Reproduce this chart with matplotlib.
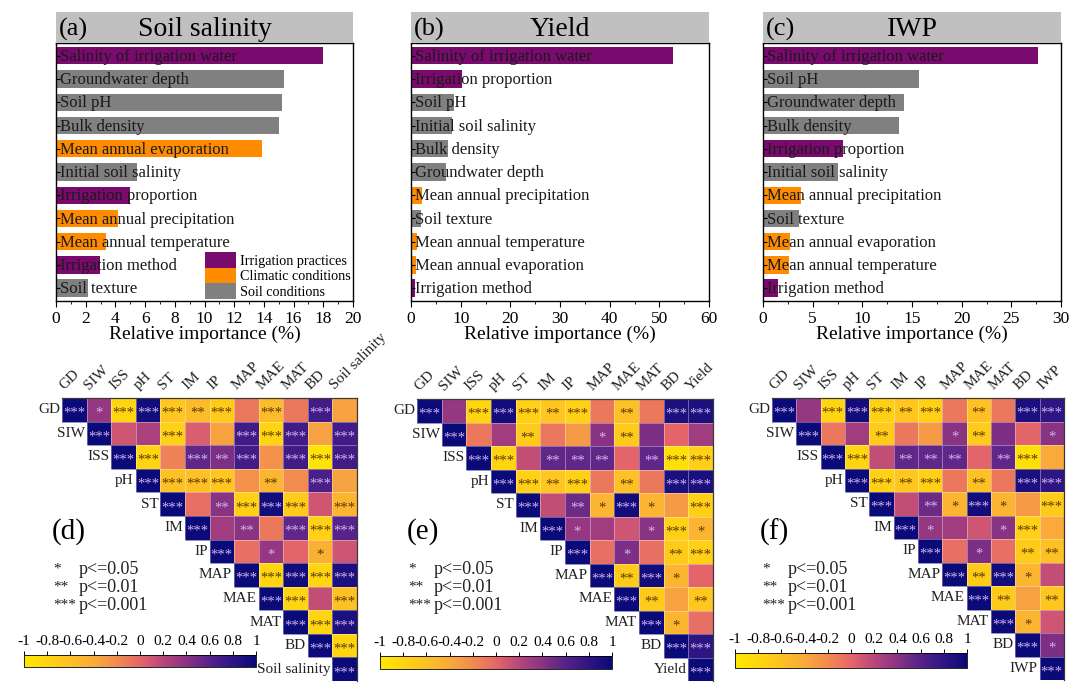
import numpy as np
import matplotlib
matplotlib.use("Agg")
import matplotlib.pyplot as plt
from matplotlib.colors import LinearSegmentedColormap
from matplotlib.patches import Patch
import matplotlib.transforms as mtransforms

plt.rcParams['font.family'] = ['Liberation Serif', 'DejaVu Serif']

# ---------------- bar chart data ----------------
a_labels = ["Salinity of irrigation water", "Groundwater depth", "Soil pH", "Bulk density",
            "Mean annual evaporation", "Initial soil salinity", "Irrigation proportion",
            "Mean annual precipitation", "Mean annual temperature", "Irrigation method", "Soil texture"]
a_values = [18.0, 15.35, 15.25, 15.05, 13.85, 5.45, 4.95, 4.15, 3.35, 2.95, 2.15]
a_groups = ["I", "S", "S", "S", "C", "S", "I", "C", "C", "I", "S"]

b_labels = ["Salinity of irrigation water", "Irrigation proportion", "Soil pH", "Initial soil salinity",
            "Bulk density", "Groundwater depth", "Mean annual precipitation", "Soil texture",
            "Mean annual temperature", "Mean annual evaporation", "Irrigation method"]
b_values = [52.7, 10.3, 8.65, 8.2, 7.5, 7.0, 2.3, 1.95, 1.2, 1.0, 0.8]
b_groups = ["I", "I", "S", "S", "S", "S", "C", "S", "C", "C", "I"]

c_labels = ["Salinity of irrigation water", "Soil pH", "Groundwater depth", "Bulk density",
            "Irrigation proportion", "Initial soil salinity", "Mean annual precipitation", "Soil texture",
            "Mean annual evaporation", "Mean annual temperature", "Irrigation method"]
c_values = [27.7, 15.7, 14.2, 13.7, 8.05, 7.6, 3.8, 3.6, 2.7, 2.6, 1.5]
c_groups = ["I", "S", "S", "S", "I", "S", "C", "S", "C", "C", "I"]

group_names = {"I": "Irrigation practices", "C": "Climatic conditions", "S": "Soil conditions"}
group_colors = {"I": "#7B0A6F", "C": "#FF8C00", "S": "#808080"}

# ---------------- correlation data ----------------
vars_base = ["GD", "SIW", "ISS", "pH", "ST", "IM", "IP", "MAP", "MAE", "MAT", "BD"]

# (d) upper triangle rows (diagonal first), last column = Soil salinity
corr_d = [
    [1, 0.35, -0.8, 0.95, -0.65, -0.55, -0.7, -0.1, -0.55, -0.1, 0.7, -0.35],
    [1, 0.1, 0.25, -0.75, 0.05, -0.35, 0.7, -0.8, 0.7, -0.35, 0.7],
    [1, -0.8, -0.15, 0.55, 0.45, 0.7, -0.25, 0.7, -0.95, 0.7],
    [1, -0.6, -0.6, -0.65, -0.25, -0.5, -0.2, 0.65, -0.35],
    [1, -0.05, 0.4, -0.75, 0.95, -0.7, 0.1, -0.5],
    [1, 0.3, 0.4, -0.1, 0.55, -0.75, 0.6],
    [1, -0.05, 0.35, 0.0, -0.45, 0.1],
    [1, -0.8, 0.95, -0.8, 0.9],
    [1, -0.8, 0.15, -0.6],
    [1, -0.8, 0.9],
    [1, -0.8],
    [1],
]
sig_d = [
    ["***", "*", "***", "***", "***", "**", "***", "", "***", "", "***", ""],
    ["***", "", "", "***", "", "", "***", "***", "***", "", "***"],
    ["***", "***", "", "***", "**", "***", "", "***", "***", "***"],
    ["***", "***", "***", "***", "", "**", "", "***", ""],
    ["***", "", "**", "***", "***", "***", "", "***"],
    ["***", "", "**", "", "***", "***", "***"],
    ["***", "", "*", "", "*", ""],
    ["***", "***", "***", "***", "***"],
    ["***", "***", "", "***"],
    ["***", "***", "***"],
    ["***", "***"],
    ["***"],
]

# (e)/(f) shared 11-variable upper triangle
corr_ef = [
    [1, 0.35, -0.8, 0.95, -0.75, -0.65, -0.75, -0.1, -0.6, -0.1, 0.9],
    [1, -0.1, 0.3, -0.7, -0.1, -0.3, 0.4, -0.7, 0.45, 0.0],
    [1, -0.8, 0.15, 0.55, 0.55, 0.55, 0.0, 0.55, -0.9],
    [1, -0.75, -0.65, -0.75, -0.1, -0.6, -0.1, 0.9],
    [1, 0.15, 0.5, -0.5, 0.95, -0.5, -0.3],
    [1, 0.35, 0.3, 0.1, 0.4, -0.75],
    [1, -0.05, 0.45, -0.05, -0.7],
    [1, -0.7, 0.95, -0.5],
    [1, -0.7, -0.35],
    [1, -0.5],
    [1],
]
sig_ef = [
    ["***", "", "***", "***", "***", "**", "***", "", "**", "", "***"],
    ["***", "", "", "**", "", "", "*", "**", "", ""],
    ["***", "***", "", "**", "**", "**", "", "**", "***"],
    ["***", "***", "**", "***", "", "**", "", "***"],
    ["***", "", "**", "*", "***", "*", ""],
    ["***", "*", "", "", "*", "***"],
    ["***", "", "*", "", "**"],
    ["***", "**", "***", "*"],
    ["***", "**", ""],
    ["***", "*"],
    ["***"],
]
yield_col = [0.9, 0.3, -0.75, 0.9, -0.75, -0.5, -0.75, 0.0, -0.65, -0.05, 0.8, 1]
yield_sig = ["***", "", "***", "***", "***", "*", "***", "", "**", "", "***", "***"]
iwp_col = [0.8, 0.4, -0.4, 0.8, -0.7, -0.4, -0.6, 0.15, -0.65, 0.1, 0.45, 1]
iwp_sig = ["***", "*", "", "***", "***", "", "**", "", "**", "", "*", "***"]

cbar_ticks = [-1, -0.8, -0.6, -0.4, -0.2, 0, 0.2, 0.4, 0.6, 0.8, 1]
cbar_ticklabels = ["-1", "-0.8", "-0.6", "-0.4", "-0.2", "0", "0.2", "0.4", "0.6", "0.8", "1"]
sig_legend = [("*", "p<=0.05"), ("**", "p<=0.01"), ("***", "p<=0.001")]


def full_matrix(rows, sigs):
    n = len(rows)
    M = np.full((n, n), np.nan)
    S = [["" for _ in range(n)] for _ in range(n)]
    for i, (r, s) in enumerate(zip(rows, sigs)):
        for k, (v, t) in enumerate(zip(r, s)):
            M[i, i + k] = v
            S[i][i + k] = t
    return M, S


def with_last(rows, sigs, col, colsig):
    new_rows = [list(r) + [col[i]] for i, r in enumerate(rows)] + [[col[-1]]]
    new_sigs = [list(s) + [colsig[i]] for i, s in enumerate(sigs)] + [[colsig[-1]]]
    return new_rows, new_sigs


cmap = LinearSegmentedColormap.from_list("corr", [
    (0.0, "#FFE800"), (0.15, "#FFCB1A"), (0.3, "#F9AA3A"), (0.4, "#F28B50"),
    (0.5, "#E4666A"), (0.6, "#B8467A"), (0.7, "#8A3383"), (0.8, "#552389"),
    (0.9, "#2E1684"), (1.0, "#0A0A78")])

W, H = 1080, 686
fig = plt.figure(figsize=(W / 100, H / 100), dpi=100)


def fx(px):
    return px / W


def fy(px):
    return 1 - px / H


def bar_panel(left_px, right_px, labels, values, groups, xmax, step, tag, title, legend=False):
    top_px, bot_px = 43, 301
    ax = fig.add_axes([fx(left_px), fy(bot_px), fx(right_px - left_px), (bot_px - top_px) / H])
    y = np.arange(len(values))
    ax.barh(y, values, height=0.75, color=[group_colors[g] for g in groups], zorder=1)
    ax.set_ylim(len(values) - 0.45, -0.55)
    ax.set_xlim(0, xmax)
    ax.set_xticks(np.arange(0, xmax + 0.01, step))
    ax.set_xticks(np.arange(0, xmax + 0.01, step / 2), minor=True)
    ax.set_xticklabels([f"{int(v)}" for v in np.arange(0, xmax + 0.01, step)])
    ax.tick_params(axis='x', which='major', direction='out', length=4, labelsize=12.5, pad=3)
    ax.tick_params(axis='x', which='minor', direction='out', length=2.5)
    ax.set_yticks(y)
    ax.set_yticklabels([])
    ax.tick_params(axis='y', direction='in', length=3)
    trans = mtransforms.blended_transform_factory(ax.transAxes, ax.transData)
    for yi, lab in zip(y, labels):
        ax.text(0.013, yi + 0.05, lab, transform=trans, ha='left', va='center', fontsize=12, color='#1a1a1a', zorder=3)
    ax.set_xlabel("Relative importance (%)", fontsize=14, labelpad=-1)
    for sp in ax.spines.values():
        sp.set_linewidth(1.0)
    if legend:
        handles = [Patch(facecolor=group_colors[k], edgecolor='none', label=group_names[k]) for k in ["I", "C", "S"]]
        ax.legend(handles=handles, loc='lower right', bbox_to_anchor=(1.0, 0.0), frameon=False,
                  fontsize=10.2, handlelength=2.2, handleheight=1.3, labelspacing=0.0,
                  handletextpad=0.3, borderpad=0.05, borderaxespad=0.1)
    hax = fig.add_axes([fx(left_px), fy(top_px), fx(right_px - left_px), (top_px - 12) / H])
    hax.set_facecolor("#C0C0C0")
    hax.set_xticks([]); hax.set_yticks([])
    for sp in hax.spines.values():
        sp.set_visible(False)
    hax.text(0.01, 0.45, tag, transform=hax.transAxes, ha='left', va='center', fontsize=19)
    hax.text(0.5, 0.45, title, transform=hax.transAxes, ha='center', va='center', fontsize=20)


bar_panel(56, 353, a_labels, a_values, a_groups, 20, 2, "(a)", "Soil salinity", legend=True)
bar_panel(411, 709, b_labels, b_values, b_groups, 60, 10, "(b)", "Yield")
bar_panel(763, 1061, c_labels, c_values, c_groups, 30, 5, "(c)", "IWP")


def heat_panel(left_px, right_px, top_px, bot_px, rows, sigs, names, tag, tag_xy, cbar_box, leg_x, leg_y0):
    M, S = full_matrix(rows, sigs)
    n = M.shape[0]
    ax = fig.add_axes([fx(left_px), fy(bot_px), fx(right_px - left_px), (bot_px - top_px) / H])
    Mm = np.ma.masked_invalid(M)
    mesh = ax.pcolormesh(np.arange(n + 1), np.arange(n + 1), Mm, cmap=cmap, vmin=-1, vmax=1,
                         edgecolors=(1, 1, 1, 0.35), linewidth=0.4)
    ax.set_xlim(0, n)
    ax.set_ylim(n, 0)
    ax.set_xticks([]); ax.set_yticks([])
    for k in ['left', 'bottom']:
        ax.spines[k].set_visible(False)
    for k in ['top', 'right']:
        ax.spines[k].set_color('#3a3a3a')
        ax.spines[k].set_linewidth(0.9)
    ax.set_facecolor('none')
    for i in range(n):
        for j in range(i, n):
            s = S[i][j]
            if s:
                col = '#D2B4EE' if M[i, j] > 0.15 else '#5A3800'
                ax.text(j + 0.5, i + 0.5 + 0.3, s, ha='center', va='baseline', fontsize=10.5,
                        color=col, clip_on=False)
        ax.text(i - 0.08, i + 0.5, names[i], ha='right', va='center', fontsize=11, color='#222')
        ax.text(i + 0.2, -0.25, names[i], ha='left', va='bottom', rotation=45,
                rotation_mode='anchor', fontsize=11, color='#222')
    fig.text(fx(tag_xy[0]), fy(tag_xy[1]), tag, ha='left', va='center', fontsize=21)
    for k, (st, txt) in enumerate(sig_legend):
        yy = leg_y0 + k * 18
        fig.text(fx(leg_x), fy(yy), st, ha='left', va='center', fontsize=11, color='#222')
        fig.text(fx(leg_x + 26), fy(yy), txt, ha='left', va='center', fontsize=13, color='#222')
    l, r, t, b = cbar_box
    cax = fig.add_axes([fx(l), fy(b), fx(r - l), (b - t) / H])
    cb = fig.colorbar(mesh, cax=cax, orientation='horizontal', ticks=cbar_ticks)
    cax.xaxis.set_ticks_position('top')
    cax.xaxis.set_label_position('top')
    cb.set_ticklabels(cbar_ticklabels)
    cax.tick_params(labelsize=11, length=3, width=0.7, pad=2)
    cb.outline.set_linewidth(0.6)


names_d = vars_base + ["Soil salinity"]
heat_panel(62, 357, 398, 681, corr_d, sig_d, names_d, "(d)", (52, 532),
           (24, 256, 655, 667), 53, 569)

rows_e, sigs_e = with_last(corr_ef, sig_ef, yield_col, yield_sig)
heat_panel(417, 713, 399, 681, rows_e, sigs_e, vars_base + ["Yield"], "(e)", (407, 532),
           (380, 612, 656, 669), 408, 569)

rows_f, sigs_f = with_last(corr_ef, sig_ef, iwp_col, iwp_sig)
heat_panel(772, 1064, 398, 680, rows_f, sigs_f, vars_base + ["IWP"], "(f)", (760, 532),
           (735, 967, 653, 668), 762, 569)

fig.savefig("out.png", dpi=100)
